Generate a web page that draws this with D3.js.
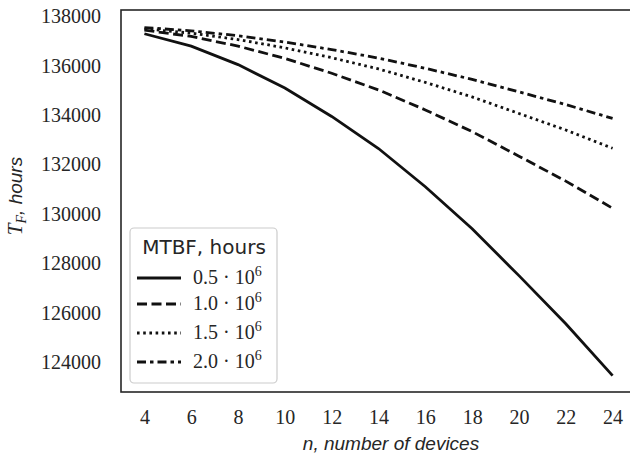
<!DOCTYPE html>
<html>
<head>
<meta charset="utf-8">
<script src="https://cdn.jsdelivr.net/npm/d3@7"></script>
<style>
  body { margin: 0; background: #fff; }
  svg { display: block; }
</style>
</head>
<body>
<svg id="svg" width="630" height="462"></svg>
<script>
// data
const devices = [4, 6, 8, 10, 12, 14, 16, 18, 20, 22, 24];
const mtbf05 = [137300, 136800, 136050, 135100, 133950, 132650, 131100, 129400, 127500, 125550, 123450];
const mtbf10 = [137450, 137190, 136800, 136300, 135700, 135025, 134215, 133335, 132340, 131330, 130230];
const mtbf15 = [137500, 137325, 137065, 136730, 136330, 135875, 135330, 134740, 134070, 133400, 132660];
const mtbf20 = [137550, 137420, 137220, 136965, 136660, 136315, 135900, 135450, 134945, 134430, 133870];
const seriesMant = ['0.5', '1.0', '1.5', '2.0'];
const xTicks = [4, 6, 8, 10, 12, 14, 16, 18, 20, 22, 24];
const yTicks = [124000, 126000, 128000, 130000, 132000, 134000, 136000, 138000];

const allSeries = [mtbf05, mtbf10, mtbf15, mtbf20];
const dashes = [null, '10,4.5', '2.6,3.6', '9,4,3.5,4'];

const svg = d3.select('#svg');
const pLeft = 121, pTop = 10, pRight = 636, pBottom = 392;
const ink = '#262626';

const x = d3.scaleLinear().domain([3, 25]).range([pLeft, pRight]);
const y = d3.scaleLinear().domain([122785, 138263]).range([pBottom, pTop]);

svg.append('defs').append('clipPath').attr('id', 'clip')
  .append('rect').attr('x', pLeft).attr('y', pTop).attr('width', pRight - pLeft).attr('height', pBottom - pTop);

// lines
const line = d3.line().x((d, i) => x(devices[i])).y(d => y(d));
svg.append('g').attr('clip-path', 'url(#clip)')
  .selectAll('path')
  .data(allSeries)
  .enter()
  .append('path')
  .attr('d', d => line(d))
  .attr('fill', 'none')
  .attr('stroke', '#111')
  .attr('stroke-width', 2.8)
  .attr('stroke-dasharray', (d, i) => dashes[i]);

// frame
svg.append('rect')
  .attr('x', pLeft).attr('y', pTop)
  .attr('width', pRight - pLeft).attr('height', pBottom - pTop)
  .attr('fill', 'none').attr('stroke', ink).attr('stroke-width', 1.6);

// axes, no tick marks
const xAxis = svg.append('g').attr('transform', `translate(0,${pBottom})`)
  .call(d3.axisBottom(x).tickValues(xTicks).tickSize(0).tickPadding(18));
const yAxis = svg.append('g').attr('transform', `translate(${pLeft},0)`)
  .call(d3.axisLeft(y).tickValues(yTicks).tickSize(0).tickPadding(20).tickFormat(d3.format('d')));
[xAxis, yAxis].forEach(g => {
  g.select('.domain').remove();
  g.selectAll('text')
    .attr('fill', ink)
    .style('font-family', '"Liberation Serif", serif')
    .style('font-size', '20px');
});
xAxis.selectAll('text').attr('dy', '0.71em');

// axis titles
svg.append('text')
  .attr('x', 391).attr('y', 450)
  .attr('text-anchor', 'middle')
  .attr('fill', ink)
  .style('font-family', '"Liberation Sans", sans-serif')
  .style('font-style', 'italic')
  .style('font-size', '19px')
  .text('n, number of devices');

const ylab = svg.append('text')
  .attr('transform', 'translate(22,196) rotate(-90)')
  .attr('text-anchor', 'middle')
  .attr('fill', ink)
  .style('font-family', '"Liberation Sans", sans-serif')
  .style('font-style', 'italic')
  .style('font-size', '19px');
ylab.append('tspan').style('font-family', '"Liberation Serif", serif').style('font-size', '21px').text('T');
ylab.append('tspan').attr('dy', 4).style('font-family', '"Liberation Serif", serif').style('font-size', '14px').text('F');
ylab.append('tspan').attr('dy', -4).text(', hours');

// legend
const lg = svg.append('g');
lg.append('rect')
  .attr('x', 130).attr('y', 228).attr('width', 147).attr('height', 155)
  .attr('rx', 4)
  .attr('fill', 'rgba(255,255,255,0.85)')
  .attr('stroke', '#cccccc').attr('stroke-width', 1.2);
lg.append('text')
  .attr('x', 204).attr('y', 254)
  .attr('text-anchor', 'middle')
  .attr('fill', ink)
  .style('font-family', '"DejaVu Sans", sans-serif')
  .style('font-size', '20px')
  .text('MTBF, hours');
const rowY = [278, 304, 333, 362];
const rows = lg.selectAll('g.row')
  .data(seriesMant)
  .enter()
  .append('g')
  .attr('class', 'row')
  .attr('transform', (d, i) => `translate(0,${rowY[i]})`);
rows.append('line')
  .attr('x1', 137).attr('x2', 181)
  .attr('stroke', '#111').attr('stroke-width', 2.8)
  .attr('stroke-dasharray', (d, i) => dashes[i]);
const lt = rows.append('text')
  .attr('x', 193).attr('y', 6)
  .attr('fill', ink)
  .style('font-family', '"Liberation Serif", serif')
  .style('font-size', '20px');
lt.append('tspan').text(d => d + ' \u00b7 10');
lt.append('tspan').attr('dy', -8).style('font-size', '14px').text('6');
</script>
</body>
</html>
